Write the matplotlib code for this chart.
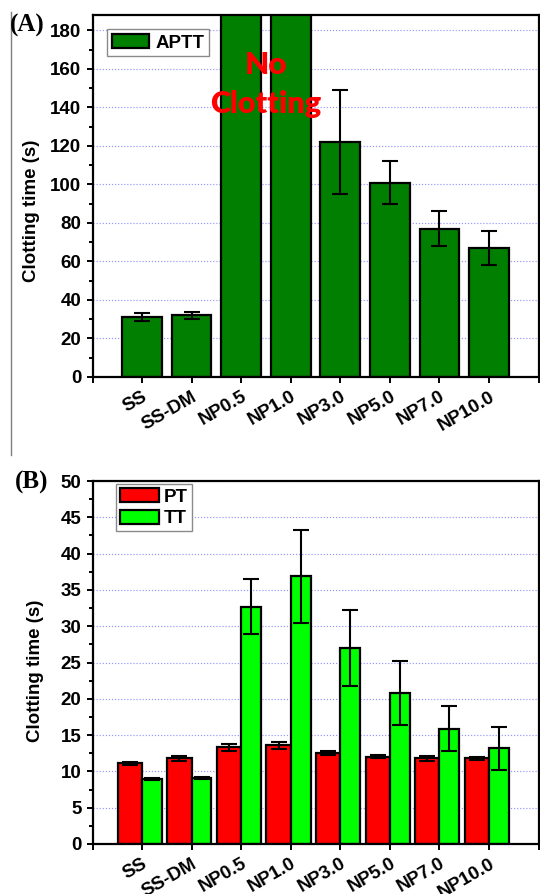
import numpy as np
import matplotlib
matplotlib.use("Agg")
import matplotlib.pyplot as plt
from matplotlib.lines import Line2D
from matplotlib.ticker import MultipleLocator

plt.rcParams['font.family'] = ['Liberation Sans', 'DejaVu Sans']
plt.rcParams['font.weight'] = 'bold'
plt.rcParams['axes.labelweight'] = 'bold'

# ---------------- data ----------------
categories = ["SS", "SS-DM", "NP0.5", "NP1.0", "NP3.0", "NP5.0", "NP7.0", "NP10.0"]
# APTT (s); NP0.5 and NP1.0 did not clot -> off-scale values
aptt_values = [31, 32, 200, 200, 122, 101, 77, 67]
aptt_errors = [2, 2, 0, 0, 27, 11, 9, 9]
# PT and TT (s)
pt_values = [11.1, 11.8, 13.3, 13.6, 12.5, 12.0, 11.8, 11.8]
pt_errors = [0.2, 0.3, 0.5, 0.5, 0.3, 0.2, 0.3, 0.2]
tt_values = [8.95, 9.1, 32.7, 36.9, 27.0, 20.8, 15.9, 13.2]
tt_errors = [0.1, 0.15, 3.8, 6.4, 5.2, 4.4, 3.1, 2.95]
aptt_ticks = np.arange(0, 181, 20)
ptt_ticks = np.arange(0, 51, 5)

# ---------------- styling ----------------
W, H = 540, 894
fig = plt.figure(figsize=(W / 100, H / 100), dpi=100)
axA = fig.add_axes([92.5 / W, 1 - 377 / H, 446 / W, 362 / H])
axB = fig.add_axes([92.5 / W, 1 - 844 / H, 446 / W, 363 / H])

x = np.arange(1, len(categories) + 1)
xt = np.arange(0, len(categories) + 2)
xlabels = [""] + categories + [""]

tick_fs = 13.5
grid_kw = dict(color="#9696ff", linestyle=(0, (1, 1.6)), linewidth=0.85)


def style_axis(ax, yticks, minor):
    ax.set_xlim(0, len(categories) + 1)
    ax.set_xticks(xt)
    ax.set_xticklabels(xlabels, rotation=30, ha="right", rotation_mode="anchor",
                       fontsize=tick_fs, fontweight="bold")
    ax.set_yticks(yticks)
    ax.yaxis.set_minor_locator(MultipleLocator(minor))
    ax.tick_params(axis="both", which="major", direction="out", length=4.5,
                   width=1.4, labelsize=tick_fs, pad=3.5, colors="black")
    ax.tick_params(axis="y", which="minor", direction="out", length=2.6, width=1.4)
    ax.tick_params(axis="x", which="minor", bottom=False)
    for s in ax.spines.values():
        s.set_linewidth(1.6)
        s.set_color("black")
    ax.set_axisbelow(True)
    ax.yaxis.grid(True, which="major", **grid_kw)
    for lab in ax.get_yticklabels():
        lab.set_fontweight("bold")


# ---------------- panel A ----------------
axA.bar(x, aptt_values, width=0.8, color="#007f00", edgecolor="black",
        linewidth=1.6, label="APTT", zorder=2)
axA.errorbar(x, aptt_values, yerr=aptt_errors, fmt="none", ecolor="black",
             elinewidth=1.5, capsize=5.5, capthick=1.5, zorder=3)
axA.set_ylim(0, 188)
style_axis(axA, aptt_ticks, 10)
axA.set_ylabel("Clotting time (s)", fontsize=13.5, fontweight="bold")
axA.yaxis.set_label_coords(-0.118, 0.46)
axA.text(3.5, 157.2, "No", color="#ff0000", fontsize=22.5, fontweight="heavy",
         family=["Lato", "DejaVu Sans"], ha="center", va="baseline", zorder=5)
axA.text(3.5, 137.3, "Clotting", color="#ff0000", fontsize=22, fontweight="heavy",
         family=["Lato", "DejaVu Sans"], ha="center", va="baseline", zorder=5)
legA = axA.legend(loc="upper left", bbox_to_anchor=(107.3 / W, 1 - 29.3 / H),
                  bbox_transform=fig.transFigure, borderaxespad=0,
                  fancybox=False, framealpha=1, edgecolor="#8a8a8a",
                  prop=dict(size=13.5, weight="bold"), handlelength=2.0,
                  handleheight=0.8, handletextpad=0.3, borderpad=0.25)
legA.get_frame().set_linewidth(1.0)

# ---------------- panel B ----------------
wP, wT = 0.49, 0.40
axB.bar(x - wP / 2, pt_values, width=wP, color="#ff0000", edgecolor="black",
        linewidth=1.6, label="PT", zorder=2)
axB.bar(x + wT / 2, tt_values, width=wT, color="#00ff00", edgecolor="black",
        linewidth=1.6, label="TT", zorder=2)
axB.errorbar(x - wP / 2, pt_values, yerr=pt_errors, fmt="none", ecolor="black",
             elinewidth=1.5, capsize=5.5, capthick=1.5, zorder=3)
axB.errorbar(x + wT / 2, tt_values, yerr=tt_errors, fmt="none", ecolor="black",
             elinewidth=1.5, capsize=5.5, capthick=1.5, zorder=3)
axB.set_ylim(0, 50)
style_axis(axB, ptt_ticks, 2.5)
axB.set_ylabel("Clotting time (s)", fontsize=13.5, fontweight="bold")
axB.yaxis.set_label_coords(-0.108, 0.477)
legB = axB.legend(loc="upper left", bbox_to_anchor=(116 / W, 1 - 484 / H),
                  bbox_transform=fig.transFigure, borderaxespad=0,
                  fancybox=False, framealpha=1, edgecolor="#8a8a8a",
                  prop=dict(size=13.5, weight="bold"), handlelength=2.05,
                  handleheight=0.8, handletextpad=0.3, borderpad=0.22,
                  labelspacing=0.2)
legB.get_frame().set_linewidth(1.0)

# ---------------- panel letters and frame line ----------------
fig.text(10 / W, 1 - 25 / H, "(A)", family=["Liberation Serif", "DejaVu Serif"],
         fontsize=18, fontweight="bold", ha="left", va="center")
fig.text(15 / W, 1 - 482 / H, "(B)", family=["Liberation Serif", "DejaVu Serif"],
         fontsize=18, fontweight="bold", ha="left", va="center")
fig.add_artist(Line2D([11 / W, 11 / W], [1 - 12 / H, 1 - 455 / H],
                      transform=fig.transFigure, color="#7f7f7f", linewidth=1.0))

fig.savefig("out.png", dpi=100)
